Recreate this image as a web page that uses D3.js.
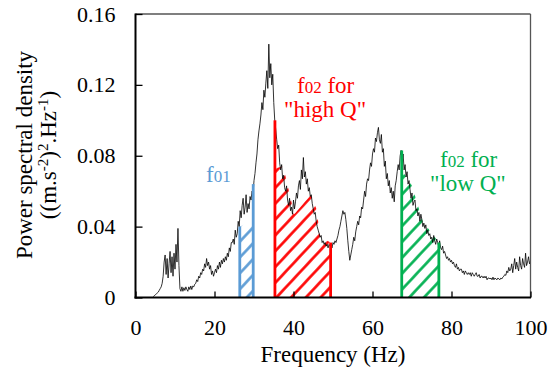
<!DOCTYPE html>
<html>
<head>
<meta charset="utf-8">
<script src="https://cdn.jsdelivr.net/npm/d3@7"></script>
<style>
  body { margin: 0; background: #fff; }
  svg text { font-family: "Liberation Serif", "Times New Roman", serif; }
</style>
</head>
<body>
<script>

/*
    Data (0.25 Hz steps from 4.5 Hz).
 */
var freqStart = 4.5;
var freqStep = 0.25;
var psd = [
    .0005,.001,.0015,.002,.0025,.003,.004,.005,.006,.008,.012,.020,.024,.013,.022,.011,.019,.026,.014,.023,
    .012,.025,.016,.030,.020,.039,.018,.005,.0035,.006,.0035,.0055,.004,.006,.0045,.0035,.006,.0045,.0065,.0045,
    .0065,.006,.0075,.008,.010,.009,.012,.011,.014,.013,.016,.015,.019,.017,.022,.018,.020,.016,.018,.013,
    .015,.012,.014,.016,.014,.018,.016,.020,.017,.021,.019,.022,.020,.023,.021,.025,.023,.028,.026,.031,
    .031,.033,.030,.038,.034,.036,.043,.040,.049,.045,.052,.056,.047,.051,.058,.048,.053,.050,.057,.055,
    .060,.058,.066,.070,.076,.081,.089,.094,.098,.103,.110,.106,.117,.113,.121,.128,.118,.143,.124,.132,
    .120,.126,.110,.100,.095,.089,.084,.086,.076,.072,.075,.067,.069,.062,.060,.063,.055,.052,.056,.049,
    .051,.047,.055,.050,.054,.059,.056,.063,.066,.061,.072,.067,.079,.068,.071,.064,.067,.060,.062,.057,
    .058,.053,.050,.047,.048,.043,.040,.038,.036,.034,.035,.031,.032,.030,.031,.029,.030,.028,.030,.029,
    .030,.028,.031,.030,.032,.031,.033,.035,.038,.040,.043,.046,.049,.047,.048,.044,.039,.032,.026,.021,
    .024,.027,.030,.034,.032,.037,.040,.043,.041,.046,.045,.051,.050,.055,.060,.057,.064,.067,.066,.072,
    .076,.074,.081,.084,.082,.090,.088,.093,.096,.089,.087,.092,.082,.084,.074,.077,.067,.070,.063,.066,
    .059,.062,.056,.060,.054,.063,.066,.071,.075,.072,.080,.083,.077,.081,.072,.075,.068,.071,.064,.066,
    .061,.056,.059,.052,.054,.055,.049,.050,.046,.048,.043,.047,.044,.040,.042,.039,.041,.036,.038,.035,
    .036,.033,.034,.031,.035,.032,.030,.033,.031,.029,.032,.028,.027,.029,.025,.026,.024,.022,.023,.021,
    .022,.020,.021,.019,.020,.018,.017,.019,.016,.017,.015,.016,.016,.014,.015,.013,.015,.014,.013,.014,
    .013,.014,.012,.014,.013,.012,.013,.014,.012,.012,.013,.011,.012,.012,.011,.012,.011,.012,.010,.011,
    .011,.0105,.011,.010,.0115,.010,.011,.0105,.010,.011,.0105,.010,.011,.0105,.0115,.012,.013,.0125,.015,.014,
    .017,.015,.016,.019,.014,.018,.022,.016,.020,.017,.015,.023,.018,.016,.022,.019,.017,.025,.018,.020,
    .023,.019,.021
];

// hatched bands: top of the hatching, and the two vertical edges [freq, psd]
var blueTop  = [[26.4,0.040],[27.4,0.041],[29.8,0.044]];
var blueEdges = [[26.4,0.040],[29.8,0.064]];
var redTop   = [[35.3,0.073],[37.4,0.074],[40.2,0.047],[44.4,0.058],[45.8,0.050],[46.8,0.034],[49.4,0.031]];
var redEdges = [[35.3,0.100],[49.4,0.031]];
var greenTop = [[67.4,0.072],[70.0,0.063],[72.7,0.043],[76.8,0.031]];
var greenEdges = [[67.4,0.083],[76.8,0.031]];

var xTicks = [0,20,40,60,80,100];
var yTicks = [0,0.04,0.08,0.12,0.16];
var yTickLabels = ["0","0.04","0.08","0.12","0.16"];

var blue = "#5b9bd5", red = "#ff0000", green = "#00b050";

var width = 548, height = 371;

var svg = d3.select("body").append("svg")
    .attr("width", width)
    .attr("height", height);

var x = d3.scaleLinear().domain([0,100]).range([135.5,530.5]);
var y = d3.scaleLinear().domain([0,0.16]).range([297.5,14]);

/*
    Hatch patterns.
 */
var defs = svg.append("defs");
function hatch(id, color) {
    var p = defs.append("pattern")
        .attr("id", id)
        .attr("patternUnits", "userSpaceOnUse")
        .attr("width", 10.8)
        .attr("height", 10.8)
        .attr("patternTransform", "rotate(43)");
    p.append("line")
        .attr("x1", 5.4).attr("y1", 0)
        .attr("x2", 5.4).attr("y2", 10.8)
        .attr("stroke", color)
        .attr("stroke-width", 2.6);
}
hatch("hatch-blue", blue);
hatch("hatch-red", red);
hatch("hatch-green", green);

var area = d3.area()
    .x(function (d) { return x(d[0]); })
    .y0(y(0))
    .y1(function (d) { return y(d[1]); });

function band(top, edges, id, color) {
    svg.append("path")
        .datum(top)
        .attr("d", area)
        .attr("fill", "url(#" + id + ")");
    return function () {
        svg.selectAll(null)
            .data(edges)
            .enter()
            .append("line")
            .attr("x1", function (d) { return x(d[0]); })
            .attr("x2", function (d) { return x(d[0]); })
            .attr("y1", y(0))
            .attr("y2", function (d) { return y(d[1]); })
            .attr("stroke", color)
            .attr("stroke-width", 2.8);
    };
}
var edgesBlue = band(blueTop, blueEdges, "hatch-blue", blue);
var edgesRed = band(redTop, redEdges, "hatch-red", red);
var edgesGreen = band(greenTop, greenEdges, "hatch-green", green);

/*
    Spectrum line.
 */
var line = d3.line()
    .x(function (d, i) { return x(freqStart + i * freqStep); })
    .y(function (d) { return y(d); });

svg.append("path")
    .datum(psd)
    .attr("d", line)
    .attr("fill", "none")
    .attr("stroke", "#000")
    .attr("stroke-width", 0.8);

edgesBlue();
edgesRed();
edgesGreen();

/*
    Frame and axes.
 */
svg.append("line")
    .attr("x1", x(0)).attr("x2", x(100))
    .attr("y1", y(0.16)).attr("y2", y(0.16))
    .attr("stroke", "#555").attr("stroke-width", 1.3);
svg.append("line")
    .attr("x1", x(100)).attr("x2", x(100))
    .attr("y1", y(0.16)).attr("y2", y(0))
    .attr("stroke", "#555").attr("stroke-width", 1.3);

var yAxis = d3.axisLeft(y)
    .tickValues(yTicks)
    .tickFormat(function (d, i) { return yTickLabels[i]; })
    .tickSizeInner(-7)
    .tickSizeOuter(0)
    .tickPadding(20);

var gy = svg.append("g")
    .attr("transform", "translate(" + x(0) + ",0)")
    .call(yAxis);

var xAxis = d3.axisBottom(x)
    .tickValues(xTicks)
    .tickFormat(d3.format("d"))
    .tickSizeInner(-6)
    .tickSizeOuter(0)
    .tickPadding(22);

var gx = svg.append("g")
    .attr("transform", "translate(0," + y(0) + ")")
    .call(xAxis);

[gx, gy].forEach(function (g) {
    g.select(".domain").remove();
    g.selectAll(".tick line").attr("stroke", "#000").attr("stroke-width", 1.3);
    g.selectAll(".tick text")
        .attr("fill", "#000")
        .style("font-family", "'Liberation Serif', serif")
        .style("font-size", "22px");
});

svg.append("line")
    .attr("x1", x(0)).attr("x2", x(0))
    .attr("y1", y(0.16) - 0.5).attr("y2", y(0) + 1)
    .attr("stroke", "#000").attr("stroke-width", 2);
svg.append("line")
    .attr("x1", x(0) - 1).attr("x2", x(100) + 0.5)
    .attr("y1", y(0)).attr("y2", y(0))
    .attr("stroke", "#000").attr("stroke-width", 2);

/*
    Axis titles.
 */
svg.append("text")
    .attr("x", (x(0) + x(100)) / 2)
    .attr("y", 362)
    .attr("text-anchor", "middle")
    .style("font-size", "23px")
    .text("Frequency (Hz)");

var yt = svg.append("g").attr("transform", "translate(0,155) rotate(-90)");
yt.append("text")
    .attr("x", 0).attr("y", 32)
    .attr("text-anchor", "middle")
    .style("font-size", "23px")
    .text("Power spectral density");

var t2 = yt.append("text")
    .attr("x", 0).attr("y", 56)
    .attr("text-anchor", "middle")
    .style("font-size", "23px");
t2.append("tspan").text("((m.s");
t2.append("tspan").attr("dy", -8).style("font-size", "15px").text("-2");
t2.append("tspan").attr("dy", 8).text(")");
t2.append("tspan").attr("dy", -8).style("font-size", "15px").text("2");
t2.append("tspan").attr("dy", 8).text(".Hz");
t2.append("tspan").attr("dy", -8).style("font-size", "15px").text("-1");
t2.append("tspan").attr("dy", 8).text(")");

/*
    Band labels.
 */
function label(px, py, color, parts) {
    var t = svg.append("text")
        .attr("x", px).attr("y", py)
        .attr("fill", color)
        .style("font-size", "23px");
    parts.forEach(function (p) {
        t.append("tspan")
            .style("font-size", p[1] ? "17px" : "23px")
            .text(p[0]);
    });
}
label(206, 182, blue, [["f"],["01",1]]);
label(297, 93, red, [["f"],["02",1],[" for"]]);
label(284, 117, red, [["\"high Q\""]]);
label(440, 167, green, [["f"],["02",1],[" for"]]);
label(430, 191, green, [["\"low Q\""]]);

</script>
</body>
</html>
